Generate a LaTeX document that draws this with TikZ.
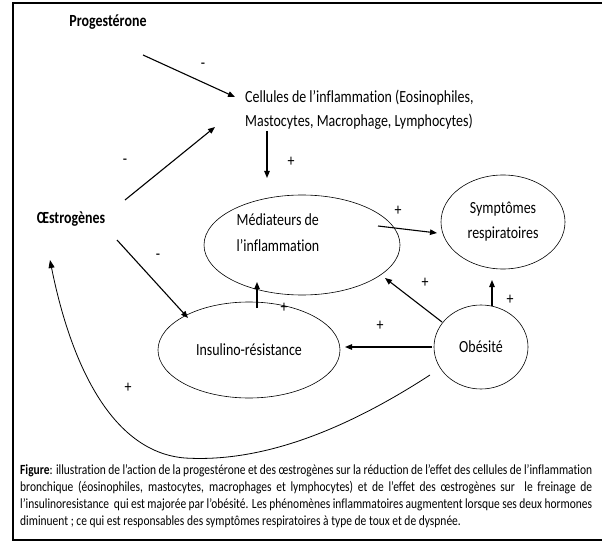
\documentclass[tikz,border=0pt]{standalone}
\usepackage{fontspec}
\setmainfont{Carlito}[FakeStretch=0.82, Ligatures=NoCommon]
\usetikzlibrary{arrows.meta,shapes.geometric}

\newcommand{\frameLeft }{13}
\newcommand{\frameTop }{3}
\newcommand{\frameBot }{540}
\newcommand{\frameRight}{603}

\tikzset{
  conn/.style={line width=1.1pt, -{Triangle[length=7pt,width=5.5pt]}},
  thinconn/.style={line width=0.8pt, -{Triangle[length=8pt,width=6pt]}},
  bubble/.style={draw, ellipse, line width=0.6pt, inner sep=0pt},
  hormone/.style={font=\fontsize{17}{20}\selectfont\bfseries},
  txt/.style={font=\fontsize{17}{24}\selectfont, inner sep=0pt},
  sign/.style={font=\fontsize{17}{17}\selectfont, inner sep=0pt},
}

\begin{document}
\begin{tikzpicture}[x=1pt, y=-1pt]

  \useasboundingbox (0,0) rectangle (602,548);

  % Frame:
  \draw[line width=1.6pt] (\frameRight,\frameTop) -- (\frameLeft,\frameTop) -- (\frameLeft,\frameBot) -- (\frameRight,\frameBot);

  % Hormones:
  \node[hormone] (prog) at (108,22) {Progestérone};
  \node[hormone] (oest) at (71,219) {Œstrogènes};

  % Cells and bubbles:
  \node[txt, align=left, anchor=west] (cell) at (245,110) {Cellules de l'inflammation (Eosinophiles,\\Mastocytes, Macrophage, Lymphocytes)};
  \node[bubble, minimum width=196, minimum height=100] (med) at (302,245) {};
  \node[txt, align=left, font=\fontsize{17}{26}\selectfont] (medlbl) at (278,233) {Médiateurs de\\l'inflammation};
  \node[bubble, txt, align=center, font=\fontsize{17}{25}\selectfont, minimum width=124, minimum height=94] (sympt) at (503,222) {Symptômes\\respiratoires};
  \node[bubble, txt, minimum width=182, minimum height=96] (insul) at (249,350) {Insulino-résistance};
  \node[bubble, txt, minimum width=94, minimum height=84] (obes) at (481,347) {Obésité};

  % Connector ends:
  \coordinate (progOut) at (143,55);
  \coordinate (cellInP) at (235,97);
  \coordinate (oestUp) at (125,200);
  \coordinate (cellInO) at (215,127);
  \coordinate (cellOut) at (267,131);
  \coordinate (medInC) at (267,178);
  \coordinate (oestDown) at (117,240);
  \coordinate (insulInO) at (188,318);
  \coordinate (insulOut) at (257,308);
  \coordinate (medInI) at (257,282);
  \coordinate (medOut) at (378,226);
  \coordinate (symptInM) at (437,233);
  \coordinate (obesToMed) at (442,322);
  \coordinate (medInOb) at (385,278);
  \coordinate (obesUp) at (492,306);
  \coordinate (symptInOb) at (492,280);
  \coordinate (obesLeft) at (432,347);
  \coordinate (insulInOb) at (345,347);
  \coordinate (obesLow) at (430,375);
  \coordinate (curveLow) at (185,458);
  \coordinate (oestInOb) at (50,260);

  % Arrows:
  \draw[conn] (progOut) -- (cellInP);
  \draw[conn] (oestUp) -- (cellInO);
  \draw[conn] (cellOut) -- (medInC);
  \draw[conn] (oestDown) -- (insulInO);
  \draw[conn] (insulOut) -- (medInI);
  \draw[conn] (medOut) -- (symptInM);
  \draw[conn] (obesToMed) -- (medInOb);
  \draw[conn] (obesUp) -- (symptInOb);
  \draw[conn] (obesLeft) -- (insulInOb);
  \draw[thinconn] (obesLow) .. controls (330,440) and (250,462) .. (curveLow)
                            .. controls (110,452) and (70,360) .. (oestInOb);

  % Signs:
  \node[sign] (s1) at (203,66) {-};
  \node[sign] (s2) at (125,162) {-};
  \node[sign] (s3) at (291,162) {+};
  \node[sign] (s4) at (158,257) {-};
  \node[sign] (s5) at (284,308) {+};
  \node[sign] (s6) at (398,211) {+};
  \node[sign] (s7) at (425,283) {+};
  \node[sign] (s8) at (510,300) {+};
  \node[sign] (s9) at (380,326) {+};
  \node[sign] (s10) at (128,388) {+};

  % Caption
  \node[anchor=north west, inner sep=0pt, text width=572pt, align=justify,
        font=\fontsize{14}{17}\selectfont] (caption) at (20,464)
    {\textbf{Figure}: illustration de l'action de la progestérone et des œstrogènes sur la réduction de l'effet des cellules de l'inflammation\linebreak
     bronchique (éosinophiles, mastocytes, macrophages et lymphocytes) et de l'effet des œstrogènes sur \ le freinage de\linebreak
     l'insulinoresistance \ qui est majorée par l'obésité. Les phénomènes inflammatoires augmentent lorsque ses deux hormones\linebreak
     diminuent ; ce qui est responsables des symptômes respiratoires à type de toux et de dyspnée.};

\end{tikzpicture}
\end{document}
